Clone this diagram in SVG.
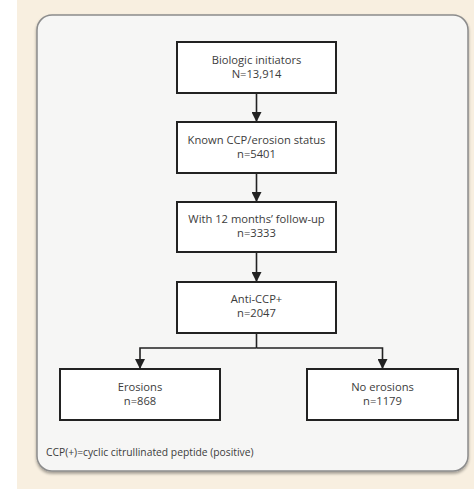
<svg xmlns="http://www.w3.org/2000/svg" width="474" height="489" viewBox="0 0 474 489">
<defs>
<style>
.box{fill:#ffffff;stroke:#222;stroke-width:2}
.t{font-family:"Open Sans","Liberation Sans",sans-serif;font-size:11.2px;fill:#3c3c3c;text-anchor:middle}
.foot{font-family:"Open Sans","Liberation Sans",sans-serif;font-size:10.3px;fill:#3c3c3c}
.ln{fill:none;stroke:#222;stroke-width:1.6}
</style>
<marker id="ah" viewBox="0 0 10 10" refX="10" refY="5" markerWidth="10" markerHeight="10" markerUnits="userSpaceOnUse" orient="auto">
<path d="M0,0 L10,5 L0,10 Z" fill="#222"/>
</marker>
<filter id="sh" x="-5%" y="-5%" width="110%" height="110%">
<feGaussianBlur in="SourceAlpha" stdDeviation="1.5"/>
<feOffset dx="0" dy="1.5"/>
<feComponentTransfer><feFuncA type="linear" slope="0.35"/></feComponentTransfer>
<feMerge><feMergeNode/><feMergeNode in="SourceGraphic"/></feMerge>
</filter>
</defs>
<rect x="0" y="0" width="474" height="489" fill="#ffffff"/>
<rect x="17" y="0" width="457" height="489" fill="#f8efe0"/>
<rect id="panel" x="37" y="15" width="431" height="456" rx="15" ry="15" fill="#f6f6f5" stroke="#8c8c8c" stroke-width="1.5" filter="url(#sh)"/>
<g id="connectors">
<line class="ln" x1="256.5" y1="93" x2="256.5" y2="122" marker-end="url(#ah)"/>
<line class="ln" x1="256.5" y1="173" x2="256.5" y2="202" marker-end="url(#ah)"/>
<line class="ln" x1="256.5" y1="252" x2="256.5" y2="282" marker-end="url(#ah)"/>
<polyline class="ln" points="256.5,333 256.5,348"/>
<polyline class="ln" points="256.5,348 140,348 140,369" marker-end="url(#ah)"/>
<polyline class="ln" points="256.5,348 382.5,348 382.5,369" marker-end="url(#ah)"/>
</g>
<g id="n1"><rect class="box" x="177" y="42" width="159" height="51"/><text class="t" x="256.5" y="64">Biologic initiators</text><text class="t" x="256.5" y="78">N=13,914</text></g>
<g id="n2"><rect class="box" x="177" y="122" width="159" height="51"/><text class="t" x="256.5" y="144">Known CCP/erosion status</text><text class="t" x="256.5" y="158">n=5401</text></g>
<g id="n3"><rect class="box" x="177" y="202" width="159" height="50"/><text class="t" x="256.5" y="223">With 12 months’ follow-up</text><text class="t" x="256.5" y="237">n=3333</text></g>
<g id="n4"><rect class="box" x="177" y="282" width="159" height="51"/><text class="t" x="256.5" y="303">Anti-CCP+</text><text class="t" x="256.5" y="317">n=2047</text></g>
<g id="n5"><rect class="box" x="60" y="369" width="160" height="51"/><text class="t" x="140" y="391">Erosions</text><text class="t" x="140" y="405">n=868</text></g>
<g id="n6"><rect class="box" x="307" y="369" width="151" height="51"/><text class="t" x="382.5" y="391">No erosions</text><text class="t" x="382.5" y="405">n=1179</text></g>
<text class="foot" x="46" y="456">CCP(+)=cyclic citrullinated peptide (positive)</text>
</svg>
